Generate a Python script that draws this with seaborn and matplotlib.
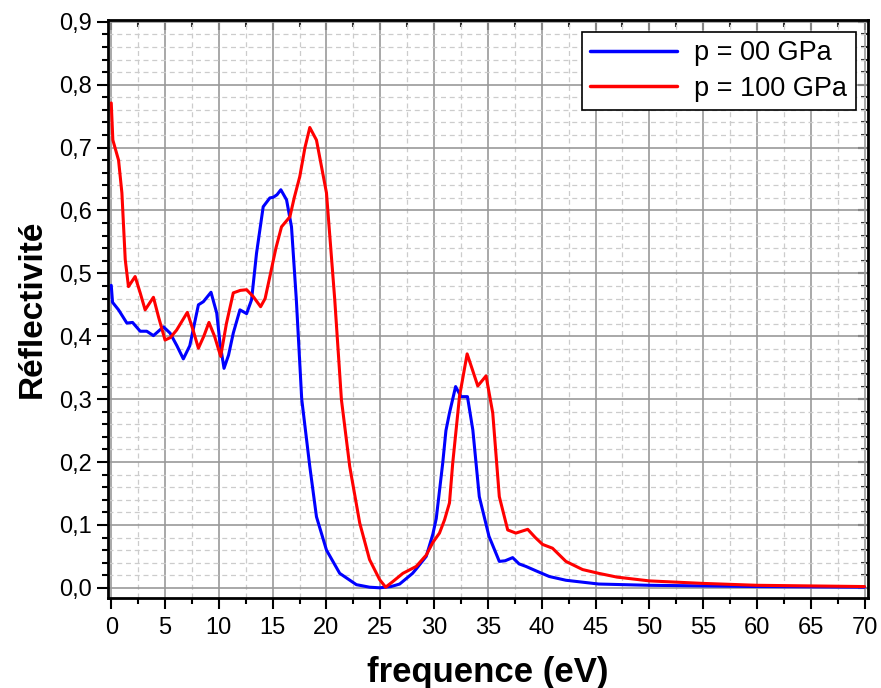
import pandas as pd
import numpy as np
import matplotlib
matplotlib.use('Agg')
import matplotlib.pyplot as plt
from matplotlib.ticker import MultipleLocator, FuncFormatter
import seaborn as sns

# p = 00 GPa
blue_x = [0, 0.12, 0.68, 1.45, 1.98, 2.69, 3.3, 3.92, 4.85, 5.47, 6.1, 6.7, 7.3, 8.1,
          8.56, 9.27, 9.8, 10.1, 10.48, 10.9, 11.34, 11.96, 12.58, 13.04, 13.5, 14.12,
          14.74, 15.05, 15.4, 15.76, 16.29, 16.75, 17.2, 17.7, 18.45, 19.07, 20.0, 21.23,
          22.78, 24.0, 24.94, 26.0, 26.8, 28.0, 28.34, 29.27, 29.88, 30.2, 30.8, 31.1,
          31.43, 32.0, 32.5, 33.1, 33.6, 34.2, 35.1, 36.06, 36.6, 37.3, 37.9, 38.54,
          39.47, 40.7, 42.25, 45.3, 50, 55, 60, 65, 70]
blue_y = [0.481, 0.454, 0.442, 0.421, 0.422, 0.408, 0.408, 0.401, 0.415, 0.405, 0.385,
          0.364, 0.385, 0.450, 0.455, 0.470, 0.437, 0.39, 0.349, 0.37, 0.405, 0.442,
          0.436, 0.458, 0.532, 0.606, 0.620, 0.621, 0.625, 0.633, 0.617, 0.574, 0.458,
          0.300, 0.193, 0.113, 0.060, 0.023, 0.005, 0.001, 0.0, 0.002, 0.006, 0.023,
          0.030, 0.050, 0.085, 0.110, 0.198, 0.250, 0.278, 0.320, 0.304, 0.304, 0.251,
          0.145, 0.082, 0.042, 0.043, 0.048, 0.038, 0.034, 0.027, 0.018, 0.012, 0.006,
          0.004, 0.003, 0.002, 0.0015, 0.001]

# p = 100 GPa
red_x = [0, 0.15, 0.68, 0.99, 1.3, 1.6, 2.22, 2.69, 3.15, 3.92, 4.39, 5.0, 5.5, 6.08,
         7.07, 7.6, 8.1, 8.6, 9.08, 9.6, 10.17, 10.7, 11.34, 12.0, 12.58, 13.2, 13.88,
         14.3, 14.74, 15.3, 15.82, 16.6, 17.0, 17.52, 18.0, 18.45, 19.07, 20.0, 20.77,
         21.39, 22.16, 23.09, 24.0, 24.94, 25.5, 26.17, 27.1, 28.34, 29.27, 29.88, 30.5,
         30.97, 31.43, 31.73, 32.36, 33.07, 33.5, 34.06, 34.83, 35.45, 36.06, 36.84,
         37.6, 38.7, 39.4, 40.08, 41.0, 42.25, 43.8, 45.3, 47, 50, 55, 60, 65, 70]
red_y = [0.771, 0.712, 0.680, 0.628, 0.522, 0.479, 0.495, 0.469, 0.442, 0.462, 0.431,
         0.394, 0.398, 0.410, 0.438, 0.41, 0.381, 0.40, 0.422, 0.40, 0.368, 0.42, 0.469,
         0.473, 0.474, 0.463, 0.447, 0.46, 0.495, 0.54, 0.574, 0.59, 0.62, 0.654, 0.70,
         0.732, 0.712, 0.628, 0.458, 0.299, 0.193, 0.103, 0.045, 0.013, 0.001, 0.010,
         0.023, 0.034, 0.052, 0.072, 0.087, 0.108, 0.135, 0.198, 0.304, 0.372, 0.35,
         0.321, 0.337, 0.278, 0.145, 0.092, 0.087, 0.093, 0.08, 0.069, 0.063, 0.042,
         0.029, 0.023, 0.017, 0.011, 0.007, 0.004, 0.003, 0.002]

labels = ['p = 00 GPa', 'p = 100 GPa']

df = pd.concat([
    pd.DataFrame({'x': blue_x, 'y': blue_y, 'serie': labels[0]}),
    pd.DataFrame({'x': red_x, 'y': red_y, 'serie': labels[1]}),
])

sns.set_style('ticks')
plt.rcParams['font.family'] = ['Liberation Sans', 'DejaVu Sans']
plt.rcParams['text.color'] = 'black'
plt.rcParams['axes.labelcolor'] = 'black'

fig = plt.figure(figsize=(8.81, 6.88), dpi=100)
ax = fig.add_axes([0.1226, 0.131, 0.8624, 0.84])

# grid first so lines sit on top
ax.set_axisbelow(True)
ax.xaxis.set_major_locator(MultipleLocator(5))
ax.xaxis.set_minor_locator(MultipleLocator(2.5))
ax.yaxis.set_major_locator(MultipleLocator(0.1))
ax.yaxis.set_minor_locator(MultipleLocator(0.02))
ax.grid(which='major', color='#999999', linestyle='-', linewidth=1.2)
ax.grid(which='minor', color='#cccccc', linestyle=(0, (4, 3)), linewidth=0.9)

sns.lineplot(data=df, x='x', y='y', hue='serie', palette=['#0000ff', '#ff0000'],
             linewidth=2.2, ax=ax, sort=False)

ax.set_xlim(-0.3, 70.3)
ax.set_ylim(-0.016, 0.903)
ax.yaxis.set_major_formatter(FuncFormatter(lambda v, p: f'{v:.1f}'.replace('.', ',')))

for s in ax.spines.values():
    s.set_visible(True)
    s.set_linewidth(2)
    s.set_color('black')

ax.tick_params(which='both', direction='out', width=1.5, labelsize=17, colors='black')
ax.tick_params(which='major', length=8)
ax.tick_params(which='minor', length=4)
ax.tick_params(axis='x', pad=6)

# inward ticks on top and right
axt = ax.secondary_xaxis('top')
axt.xaxis.set_major_locator(MultipleLocator(5))
axt.xaxis.set_minor_locator(MultipleLocator(2.5))
axt.tick_params(which='both', direction='in', labeltop=False, width=1.5)
axt.tick_params(which='major', length=7)
axt.tick_params(which='minor', length=5)
axr = ax.secondary_yaxis('right')
axr.yaxis.set_major_locator(MultipleLocator(0.1))
axr.yaxis.set_minor_locator(MultipleLocator(0.02))
axr.tick_params(which='both', direction='in', labelright=False, width=1.5)
axr.tick_params(which='major', length=7)
axr.tick_params(which='minor', length=5)

ax.set_xlabel('frequence (eV)', fontsize=25, fontweight='bold', labelpad=12)
ax.set_ylabel('Réflectivité', fontsize=24, fontweight='bold', labelpad=8)

leg = ax.legend(loc='upper right', fontsize=19.5, frameon=True, fancybox=False,
                edgecolor='black', handlelength=3.2, handletextpad=0.65,
                labelspacing=0.35, borderpad=0.3, borderaxespad=0.45,
                framealpha=1)
leg.get_frame().set_linewidth(1.2)
for line in leg.get_lines():
    line.set_linewidth(2.5)

fig.savefig('out.png', dpi=100)
